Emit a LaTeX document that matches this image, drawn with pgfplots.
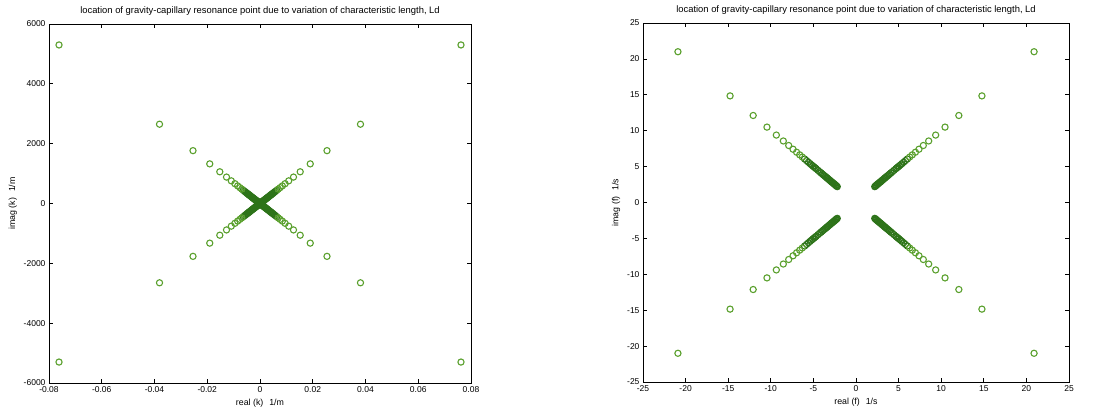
\documentclass[border=0pt]{standalone}
\usepackage{fontspec}
\setmainfont{Liberation Sans}
\usepackage{pgfplots}
\pgfplotsset{compat=1.18}
\usepackage{pgfplotstable}

\definecolor{ptlight}{RGB}{90,160,45}
\definecolor{ptdark}{RGB}{45,115,25}

% wavenumber k: one quadrant, mirrored into the other three
\pgfplotstableread{
x y
0.0762 5300
0.0381 2650
0.0254 1766.7
0.01905 1325
0.01524 1060
0.0127 883.3
0.010886 757.1
0.009525 662.5
0.008467 588.9
0.00762 530
0.006927 481.8
}\kouter
\pgfplotstableread{
x y
0.00635 441.7
0.005862 407.7
0.005443 378.6
0.00508 353.3
0.004763 331.3
0.004482 311.8
0.004233 294.4
0.004011 278.9
0.00381 265
0.003464 240.9
0.003175 220.8
0.002931 203.8
0.002721 189.3
0.00254 176.7
0.002309 160.6
0.002117 147.2
0.001905 132.5
0.001693 117.8
0.001524 106
0.001361 94.6
0.00121 84.1
0.001089 75.7
0.000953 66.3
0.000847 58.9
0.000762 53
0.000635 44.2
0.000508 35.3
0.000381 26.5
0.000254 17.7
0.000152 10.6
}\kinner

% frequency f
\pgfplotstableread{
x y
20.90 21.00
14.78 14.85
12.07 12.12
10.45 10.50
9.35 9.39
8.53 8.57
7.90 7.94
7.39 7.42
6.97 7.00
6.61 6.64
6.30 6.33
}\fouter
\pgfplotstableread{
x y
6.03 6.06
5.80 5.83
5.59 5.61
5.40 5.42
5.23 5.25
5.07 5.09
4.93 4.95
4.79 4.82
4.67 4.70
4.46 4.48
4.27 4.29
4.10 4.12
3.95 3.97
3.82 3.83
3.69 3.71
3.58 3.60
3.48 3.50
3.39 3.41
3.30 3.32
3.19 3.20
3.08 3.10
2.99 3.00
2.90 2.91
2.82 2.83
2.74 2.76
2.65 2.67
2.57 2.59
2.50 2.51
2.41 2.43
2.34 2.35
2.27 2.28
2.20 2.21
}\finner

\pgfplotsset{
  matlab/.style={
    scale only axis,
    axis line style={line width=0.8pt},
    tick align=inside,
    major tick length=4pt,
    every tick/.style={black, line width=0.7pt},
    tick label style={font=\fontsize{8.5}{10}\selectfont},
    label style={font=\fontsize{8.8}{10}\selectfont},
    title style={font=\fontsize{9.4}{11}\selectfont, yshift=-1pt},
    /pgf/number format/assume math mode=true,
    /pgf/number format/1000 sep={},
  },
  pts/.style={only marks, mark=o, mark size=3.1pt, line width=1.1pt, color=#1, mark options={solid}},
}

\begin{document}
\begin{tikzpicture}
\path[use as bounding box] (0pt,0pt) rectangle (1112pt,413pt);

\begin{axis}[matlab,
  at={(49pt,30pt)}, anchor=south west,
  width=422pt, height=359pt,
  xmin=-0.08, xmax=0.08, ymin=-6000, ymax=6000,
  xtick={-0.08,-0.06,-0.04,-0.02,0,0.02,0.04,0.06,0.08},
  ytick={-6000,-4000,-2000,0,2000,4000,6000},
  scaled x ticks=false, scaled y ticks=false,
  xticklabel style={/pgf/number format/fixed, /pgf/number format/precision=2},
  title={location of gravity-capillary resonance point due to variation of characteristic length, Ld},
  xlabel={real (k)\hspace{6pt}1/m},
  ylabel={imag (k)\hspace{6pt}1/m},
]
\addplot[pts=ptdark] table[x=x,y=y] {\kinner};
\addplot[pts=ptdark] table[x expr=-\thisrow{x},y=y] {\kinner};
\addplot[pts=ptdark] table[x=x,y expr=-\thisrow{y}] {\kinner};
\addplot[pts=ptdark] table[x expr=-\thisrow{x},y expr=-\thisrow{y}] {\kinner};
\addplot[pts=ptlight] table[x=x,y=y] {\kouter};
\addplot[pts=ptlight] table[x expr=-\thisrow{x},y=y] {\kouter};
\addplot[pts=ptlight] table[x=x,y expr=-\thisrow{y}] {\kouter};
\addplot[pts=ptlight] table[x expr=-\thisrow{x},y expr=-\thisrow{y}] {\kouter};
\end{axis}

\begin{axis}[matlab,
  at={(643pt,31pt)}, anchor=south west,
  width=426pt, height=359pt,
  xmin=-25, xmax=25, ymin=-25, ymax=25,
  xtick={-25,-20,...,25},
  ytick={-25,-20,...,25},
  title={location of gravity-capillary resonance point due to variation of characteristic length, Ld},
  xlabel={real (f)\hspace{6pt}1/s},
  ylabel={imag (f)\hspace{6pt}1/s},
]
\addplot[pts=ptdark] table[x=x,y=y] {\finner};
\addplot[pts=ptdark] table[x expr=-\thisrow{x},y=y] {\finner};
\addplot[pts=ptdark] table[x=x,y expr=-\thisrow{y}] {\finner};
\addplot[pts=ptdark] table[x expr=-\thisrow{x},y expr=-\thisrow{y}] {\finner};
\addplot[pts=ptlight] table[x=x,y=y] {\fouter};
\addplot[pts=ptlight] table[x expr=-\thisrow{x},y=y] {\fouter};
\addplot[pts=ptlight] table[x=x,y expr=-\thisrow{y}] {\fouter};
\addplot[pts=ptlight] table[x expr=-\thisrow{x},y expr=-\thisrow{y}] {\fouter};
\end{axis}
\end{tikzpicture}
\end{document}
